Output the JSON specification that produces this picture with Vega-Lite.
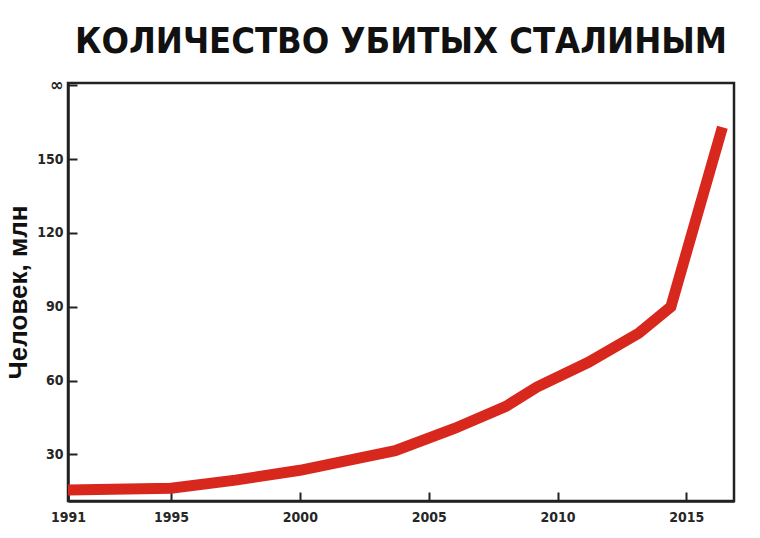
{
  "$schema": "https://vega.github.io/schema/vega-lite/v6.json",
  "autosize": "none",
  "width": 666,
  "height": 418,
  "padding": {"left": 68, "top": 83, "right": 26, "bottom": 37},
  "background": "white",
  "title": {
    "text": "КОЛИЧЕСТВО УБИТЫХ СТАЛИНЫМ",
    "font": "DejaVu Sans Condensed",
    "fontWeight": "bold",
    "fontSize": 36,
    "color": "#111111",
    "anchor": "middle",
    "offset": 15
  },
  "config": {
    "view": {"stroke": "#222222", "strokeWidth": 2.5}
  },
  "data": {
    "values": [
      {"year": 1991, "killed": 15.5},
      {"year": 1995, "killed": 16.2},
      {"year": 1997.5, "killed": 19.5},
      {"year": 2000, "killed": 23.5},
      {"year": 2003.7, "killed": 31.5},
      {"year": 2006, "killed": 40.5},
      {"year": 2008, "killed": 49.5},
      {"year": 2009.2, "killed": 57.3},
      {"year": 2011.2, "killed": 67.4},
      {"year": 2013.15, "killed": 79.2},
      {"year": 2014.4, "killed": 90},
      {"year": 2016.4, "killed": 163}
    ]
  },
  "mark": {"type": "line", "color": "#d8271d", "strokeWidth": 11, "strokeCap": "butt", "clip": false},
  "encoding": {
    "x": {
      "field": "year",
      "type": "quantitative",
      "scale": {"domain": [1991, 2016.85], "nice": false, "zero": false},
      "axis": {
        "title": null,
        "values": [1991, 1995, 2000, 2005, 2010, 2015],
        "format": "d",
        "grid": false,
        "domainColor": "#222222",
        "domainWidth": 2.5,
        "ticks": true,
        "tickColor": "#222222",
        "tickWidth": 2,
        "tickSize": -9,
        "labelPadding": 18,
        "labelFont": "DejaVu Sans Condensed",
        "labelFontWeight": "bold",
        "labelFontSize": 14,
        "labelColor": "#262626",
        "labelFlush": false
      }
    },
    "y": {
      "field": "killed",
      "type": "quantitative",
      "scale": {"domain": [11, 181], "nice": false, "zero": false},
      "axis": {
        "title": "Человек, млн",
        "titleFont": "Liberation Sans",
        "titleFontWeight": "bold",
        "titleFontSize": 26,
        "titleColor": "#111111",
        "titlePadding": 5,
        "values": [30, 60, 90, 120, 150, 180],
        "labelExpr": "datum.value == 180 ? '∞' : datum.label",
        "grid": false,
        "domainColor": "#222222",
        "domainWidth": 2.5,
        "ticks": true,
        "tickColor": "#222222",
        "tickWidth": 2,
        "tickSize": -9,
        "labelPadding": 14,
        "labelFont": "DejaVu Sans Condensed",
        "labelFontWeight": "bold",
        "labelFontSize": {"condition": {"test": "datum.value == 180", "value": 18}, "value": 14},
        "labelColor": "#262626",
        "labelFlush": false
      }
    }
  }
}
